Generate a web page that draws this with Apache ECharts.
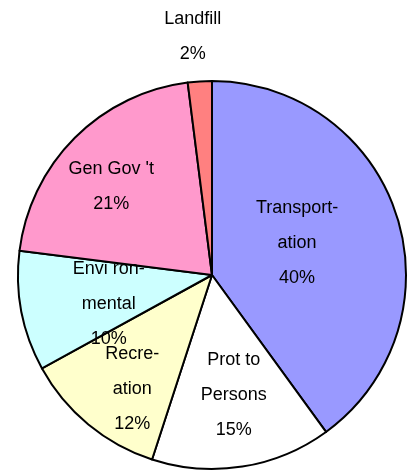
<!DOCTYPE html>
<html>
<head>
<meta charset="utf-8">
<script src="https://cdn.jsdelivr.net/npm/echarts@6/dist/echarts.min.js"></script>
<style>html,body{margin:0;padding:0;background:#fff;}#c{width:409px;height:472px;}</style>
</head>
<body>
<div id="c"></div>
<script>
const categories = ["Transportation", "Prot to Persons", "Recreation", "Environmental", "Gen Gov't", "Landfill"];
const labelTexts = ["Transport-\nation", "Prot to\nPersons", "Recre-\nation", "Envi ron-\nmental", "Gen Gov 't", "Landfill"];
const values = [40, 15, 12, 10, 21, 2];
const colors = ["#9999ff", "#ffffff", "#ffffcc", "#ccffff", "#ff99cc", "#ff8080"];
const labelOffsets = [[-10, -1], [6, 21], [-16, 37], [-5, 10], [-30, -18], [-13, -139]];

const data = categories.map((c, i) => ({
  name: c,
  value: values[i],
  itemStyle: { color: colors[i] },
  label: {
    formatter: labelTexts[i] + "\n" + values[i] + "%",
    offset: labelOffsets[i]
  }
}));

const chart = echarts.init(document.getElementById('c'), null, { renderer: 'canvas' });
chart.setOption({
  animation: false,
  series: [{
    type: 'pie',
    center: [212, 275],
    radius: [0, 194],
    startAngle: 90,
    clockwise: true,
    avoidLabelOverlap: false,
    labelLayout: { hideOverlap: false },
    itemStyle: { borderColor: '#000', borderWidth: 2 },
    label: {
      show: true,
      position: 'inside',
      color: '#000',
      fontFamily: 'Liberation Sans, Arial, sans-serif',
      fontSize: 18,
      lineHeight: 35,
      align: 'center'
    },
    labelLine: { show: false },
    emphasis: { disabled: true },
    data: data
  }]
});
</script>
</body>
</html>
